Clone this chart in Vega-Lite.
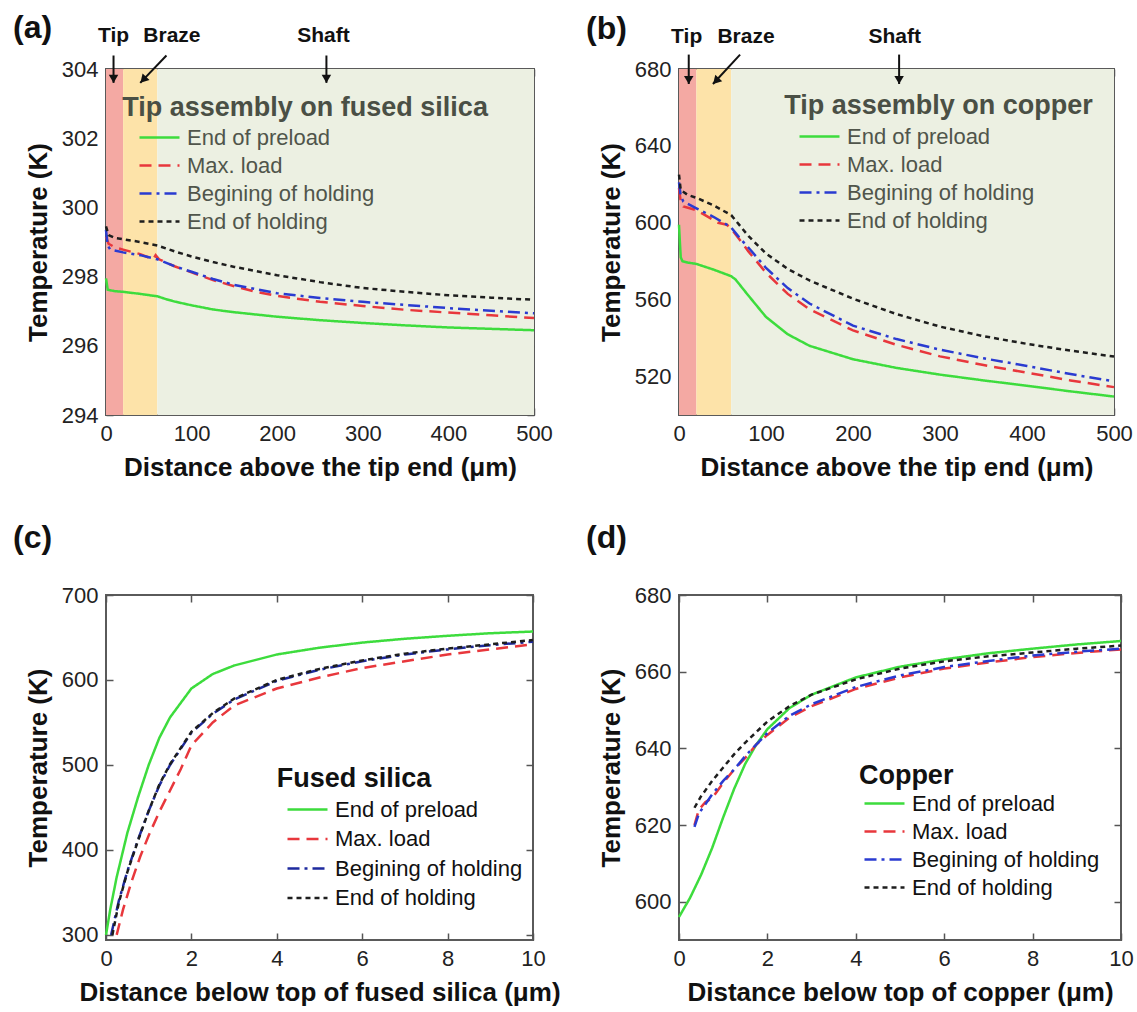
{
  "$schema": "https://vega.github.io/schema/vega-lite/v6.json",
  "background": "white",
  "padding": {"left": 12, "top": 11, "right": 5, "bottom": 5},
  "config": {
    "font": "Liberation Sans",
    "view": {"stroke": "#5a5a5a", "strokeWidth": 2},
    "axis": {"grid": false, "domain": false, "tickSize": -7, "tickColor": "#555555", "tickWidth": 1.5, "labelFontSize": 22, "labelColor": "#222222", "labelPadding": 15, "labelFlush": false, "titleFontSize": 26, "titleFontWeight": "bold", "titleColor": "#111111", "titlePadding": 10},
    "legend": {"padding": 0, "symbolType": "M-3,0L1,0", "symbolSize": 400, "symbolStrokeWidth": 2.5, "labelFontSize": 22, "labelOffset": 6, "rowPadding": 5, "labelColor": "#111111", "labelLimit": 400},
    "title": {"fontSize": 32, "fontWeight": "bold", "anchor": "start", "frame": "group", "color": "#111111", "baseline": "alphabetic"}
  },
  "resolve": {"scale": {"color": "independent", "strokeDash": "independent", "fill": "independent"}, "legend": {"color": "independent", "strokeDash": "independent"}},
  "datasets": {
    "zones": [
      {"zone": "Tip", "x0": 0, "x1": 20},
      {"zone": "Braze", "x0": 20, "x1": 60},
      {"zone": "Shaft", "x0": 60, "x1": 500}
    ],
    "a": [
      {"s": "End of preload", "x": 0, "T": 297.95}, {"s": "End of preload", "x": 2, "T": 297.62}, {"s": "End of preload", "x": 10, "T": 297.58}, {"s": "End of preload", "x": 20, "T": 297.56}, {"s": "End of preload", "x": 40, "T": 297.5}, {"s": "End of preload", "x": 60, "T": 297.43}, {"s": "End of preload", "x": 70, "T": 297.35}, {"s": "End of preload", "x": 80, "T": 297.28}, {"s": "End of preload", "x": 100, "T": 297.17}, {"s": "End of preload", "x": 125, "T": 297.05}, {"s": "End of preload", "x": 150, "T": 296.97}, {"s": "End of preload", "x": 200, "T": 296.84}, {"s": "End of preload", "x": 250, "T": 296.74}, {"s": "End of preload", "x": 300, "T": 296.66}, {"s": "End of preload", "x": 350, "T": 296.59}, {"s": "End of preload", "x": 400, "T": 296.53}, {"s": "End of preload", "x": 450, "T": 296.49}, {"s": "End of preload", "x": 500, "T": 296.45},
      {"s": "Max. load", "x": 0, "T": 299.15}, {"s": "Max. load", "x": 3, "T": 298.95}, {"s": "Max. load", "x": 10, "T": 298.85}, {"s": "Max. load", "x": 20, "T": 298.78}, {"s": "Max. load", "x": 40, "T": 298.65}, {"s": "Max. load", "x": 55, "T": 298.5}, {"s": "Max. load", "x": 58, "T": 298.62}, {"s": "Max. load", "x": 62, "T": 298.5}, {"s": "Max. load", "x": 80, "T": 298.3}, {"s": "Max. load", "x": 100, "T": 298.12}, {"s": "Max. load", "x": 125, "T": 297.9}, {"s": "Max. load", "x": 150, "T": 297.72}, {"s": "Max. load", "x": 175, "T": 297.56}, {"s": "Max. load", "x": 200, "T": 297.44}, {"s": "Max. load", "x": 250, "T": 297.27}, {"s": "Max. load", "x": 300, "T": 297.15}, {"s": "Max. load", "x": 350, "T": 297.04}, {"s": "Max. load", "x": 400, "T": 296.96}, {"s": "Max. load", "x": 450, "T": 296.88}, {"s": "Max. load", "x": 500, "T": 296.8},
      {"s": "Begining of holding", "x": 0, "T": 299.35}, {"s": "Begining of holding", "x": 2, "T": 298.9}, {"s": "Begining of holding", "x": 5, "T": 298.78}, {"s": "Begining of holding", "x": 20, "T": 298.7}, {"s": "Begining of holding", "x": 40, "T": 298.62}, {"s": "Begining of holding", "x": 60, "T": 298.5}, {"s": "Begining of holding", "x": 80, "T": 298.3}, {"s": "Begining of holding", "x": 100, "T": 298.14}, {"s": "Begining of holding", "x": 125, "T": 297.93}, {"s": "Begining of holding", "x": 150, "T": 297.76}, {"s": "Begining of holding", "x": 200, "T": 297.52}, {"s": "Begining of holding", "x": 250, "T": 297.38}, {"s": "Begining of holding", "x": 300, "T": 297.27}, {"s": "Begining of holding", "x": 350, "T": 297.18}, {"s": "Begining of holding", "x": 400, "T": 297.09}, {"s": "Begining of holding", "x": 450, "T": 297.01}, {"s": "Begining of holding", "x": 500, "T": 296.94},
      {"s": "End of holding", "x": 0, "T": 299.45}, {"s": "End of holding", "x": 3, "T": 299.2}, {"s": "End of holding", "x": 10, "T": 299.12}, {"s": "End of holding", "x": 20, "T": 299.08}, {"s": "End of holding", "x": 40, "T": 299.0}, {"s": "End of holding", "x": 60, "T": 298.9}, {"s": "End of holding", "x": 80, "T": 298.73}, {"s": "End of holding", "x": 100, "T": 298.58}, {"s": "End of holding", "x": 125, "T": 298.42}, {"s": "End of holding", "x": 150, "T": 298.28}, {"s": "End of holding", "x": 200, "T": 298.04}, {"s": "End of holding", "x": 250, "T": 297.84}, {"s": "End of holding", "x": 300, "T": 297.67}, {"s": "End of holding", "x": 350, "T": 297.56}, {"s": "End of holding", "x": 400, "T": 297.46}, {"s": "End of holding", "x": 450, "T": 297.39}, {"s": "End of holding", "x": 500, "T": 297.33}
    ],
    "b": [
      {"s": "End of preload", "x": 0, "T": 599}, {"s": "End of preload", "x": 1, "T": 590}, {"s": "End of preload", "x": 2, "T": 582}, {"s": "End of preload", "x": 4, "T": 580}, {"s": "End of preload", "x": 10, "T": 579.3}, {"s": "End of preload", "x": 20, "T": 578.6}, {"s": "End of preload", "x": 40, "T": 575.6}, {"s": "End of preload", "x": 60, "T": 572.2}, {"s": "End of preload", "x": 65, "T": 570.5}, {"s": "End of preload", "x": 80, "T": 562}, {"s": "End of preload", "x": 100, "T": 551}, {"s": "End of preload", "x": 125, "T": 542}, {"s": "End of preload", "x": 150, "T": 536}, {"s": "End of preload", "x": 200, "T": 529}, {"s": "End of preload", "x": 250, "T": 524.5}, {"s": "End of preload", "x": 300, "T": 521}, {"s": "End of preload", "x": 350, "T": 518}, {"s": "End of preload", "x": 400, "T": 515.2}, {"s": "End of preload", "x": 450, "T": 512.3}, {"s": "End of preload", "x": 500, "T": 509.6},
      {"s": "Max. load", "x": 0, "T": 618}, {"s": "Max. load", "x": 2, "T": 611}, {"s": "Max. load", "x": 5, "T": 608.5}, {"s": "Max. load", "x": 20, "T": 606.5}, {"s": "Max. load", "x": 30, "T": 604}, {"s": "Max. load", "x": 45, "T": 600}, {"s": "Max. load", "x": 55, "T": 599}, {"s": "Max. load", "x": 60, "T": 597}, {"s": "Max. load", "x": 70, "T": 591}, {"s": "Max. load", "x": 80, "T": 585}, {"s": "Max. load", "x": 100, "T": 574}, {"s": "Max. load", "x": 125, "T": 563}, {"s": "Max. load", "x": 150, "T": 555}, {"s": "Max. load", "x": 200, "T": 544}, {"s": "Max. load", "x": 250, "T": 536.5}, {"s": "Max. load", "x": 300, "T": 530.5}, {"s": "Max. load", "x": 350, "T": 526}, {"s": "Max. load", "x": 400, "T": 522}, {"s": "Max. load", "x": 450, "T": 518}, {"s": "Max. load", "x": 500, "T": 514.5},
      {"s": "Begining of holding", "x": 0, "T": 621}, {"s": "Begining of holding", "x": 2, "T": 614}, {"s": "Begining of holding", "x": 5, "T": 611}, {"s": "Begining of holding", "x": 20, "T": 607.5}, {"s": "Begining of holding", "x": 40, "T": 603}, {"s": "Begining of holding", "x": 55, "T": 599}, {"s": "Begining of holding", "x": 60, "T": 597.5}, {"s": "Begining of holding", "x": 70, "T": 592}, {"s": "Begining of holding", "x": 80, "T": 587}, {"s": "Begining of holding", "x": 100, "T": 576.5}, {"s": "Begining of holding", "x": 125, "T": 566}, {"s": "Begining of holding", "x": 150, "T": 558}, {"s": "Begining of holding", "x": 200, "T": 546.5}, {"s": "Begining of holding", "x": 250, "T": 539.5}, {"s": "Begining of holding", "x": 300, "T": 534}, {"s": "Begining of holding", "x": 350, "T": 529.5}, {"s": "Begining of holding", "x": 400, "T": 525.5}, {"s": "Begining of holding", "x": 450, "T": 521.3}, {"s": "Begining of holding", "x": 500, "T": 517.5},
      {"s": "End of holding", "x": 0, "T": 625}, {"s": "End of holding", "x": 2, "T": 617}, {"s": "End of holding", "x": 10, "T": 614.5}, {"s": "End of holding", "x": 20, "T": 613}, {"s": "End of holding", "x": 40, "T": 609}, {"s": "End of holding", "x": 60, "T": 604}, {"s": "End of holding", "x": 70, "T": 598.5}, {"s": "End of holding", "x": 80, "T": 593}, {"s": "End of holding", "x": 100, "T": 584}, {"s": "End of holding", "x": 125, "T": 576}, {"s": "End of holding", "x": 150, "T": 570}, {"s": "End of holding", "x": 200, "T": 560.5}, {"s": "End of holding", "x": 250, "T": 552.5}, {"s": "End of holding", "x": 300, "T": 546}, {"s": "End of holding", "x": 350, "T": 541}, {"s": "End of holding", "x": 400, "T": 537}, {"s": "End of holding", "x": 450, "T": 533.5}, {"s": "End of holding", "x": 500, "T": 530.4}
    ],
    "c": [
      {"s": "End of preload", "x": 0, "T": 300}, {"s": "End of preload", "x": 0.1, "T": 330}, {"s": "End of preload", "x": 0.25, "T": 368}, {"s": "End of preload", "x": 0.5, "T": 420}, {"s": "End of preload", "x": 0.75, "T": 462}, {"s": "End of preload", "x": 1, "T": 500}, {"s": "End of preload", "x": 1.25, "T": 532}, {"s": "End of preload", "x": 1.5, "T": 556}, {"s": "End of preload", "x": 2, "T": 590}, {"s": "End of preload", "x": 2.5, "T": 607}, {"s": "End of preload", "x": 3, "T": 617}, {"s": "End of preload", "x": 4, "T": 630}, {"s": "End of preload", "x": 5, "T": 638}, {"s": "End of preload", "x": 6, "T": 644}, {"s": "End of preload", "x": 7, "T": 648.5}, {"s": "End of preload", "x": 8, "T": 652}, {"s": "End of preload", "x": 9, "T": 655}, {"s": "End of preload", "x": 10, "T": 657},
      {"s": "Max. load", "x": 0.25, "T": 300}, {"s": "Max. load", "x": 0.4, "T": 330}, {"s": "Max. load", "x": 0.6, "T": 363}, {"s": "Max. load", "x": 0.8, "T": 392}, {"s": "Max. load", "x": 1, "T": 417}, {"s": "Max. load", "x": 1.25, "T": 445}, {"s": "Max. load", "x": 1.5, "T": 470}, {"s": "Max. load", "x": 1.75, "T": 495}, {"s": "Max. load", "x": 2, "T": 523}, {"s": "Max. load", "x": 2.5, "T": 550}, {"s": "Max. load", "x": 3, "T": 570}, {"s": "Max. load", "x": 4, "T": 590}, {"s": "Max. load", "x": 5, "T": 603}, {"s": "Max. load", "x": 6, "T": 614}, {"s": "Max. load", "x": 7, "T": 622}, {"s": "Max. load", "x": 8, "T": 630}, {"s": "Max. load", "x": 9, "T": 636}, {"s": "Max. load", "x": 10, "T": 642},
      {"s": "Begining of holding", "x": 0.12, "T": 300}, {"s": "Begining of holding", "x": 0.3, "T": 340}, {"s": "Begining of holding", "x": 0.5, "T": 375}, {"s": "Begining of holding", "x": 0.75, "T": 412}, {"s": "Begining of holding", "x": 1, "T": 446}, {"s": "Begining of holding", "x": 1.25, "T": 476}, {"s": "Begining of holding", "x": 1.5, "T": 500}, {"s": "Begining of holding", "x": 2, "T": 538}, {"s": "Begining of holding", "x": 2.5, "T": 560}, {"s": "Begining of holding", "x": 3, "T": 577}, {"s": "Begining of holding", "x": 4, "T": 599}, {"s": "Begining of holding", "x": 5, "T": 612}, {"s": "Begining of holding", "x": 6, "T": 622}, {"s": "Begining of holding", "x": 7, "T": 630}, {"s": "Begining of holding", "x": 8, "T": 636}, {"s": "Begining of holding", "x": 9, "T": 641}, {"s": "Begining of holding", "x": 10, "T": 645},
      {"s": "End of holding", "x": 0.15, "T": 300}, {"s": "End of holding", "x": 0.3, "T": 338}, {"s": "End of holding", "x": 0.5, "T": 374}, {"s": "End of holding", "x": 0.75, "T": 411}, {"s": "End of holding", "x": 1, "T": 446}, {"s": "End of holding", "x": 1.25, "T": 477}, {"s": "End of holding", "x": 1.5, "T": 501}, {"s": "End of holding", "x": 2, "T": 539}, {"s": "End of holding", "x": 2.5, "T": 561}, {"s": "End of holding", "x": 3, "T": 578}, {"s": "End of holding", "x": 4, "T": 600}, {"s": "End of holding", "x": 5, "T": 613}, {"s": "End of holding", "x": 6, "T": 623}, {"s": "End of holding", "x": 7, "T": 631}, {"s": "End of holding", "x": 8, "T": 637}, {"s": "End of holding", "x": 9, "T": 642}, {"s": "End of holding", "x": 10, "T": 647}
    ],
    "d": [
      {"s": "End of preload", "x": 0, "T": 596}, {"s": "End of preload", "x": 0.25, "T": 601}, {"s": "End of preload", "x": 0.5, "T": 607}, {"s": "End of preload", "x": 0.75, "T": 614}, {"s": "End of preload", "x": 1, "T": 622}, {"s": "End of preload", "x": 1.25, "T": 629.5}, {"s": "End of preload", "x": 1.5, "T": 636}, {"s": "End of preload", "x": 1.75, "T": 641}, {"s": "End of preload", "x": 2, "T": 645}, {"s": "End of preload", "x": 2.5, "T": 650.5}, {"s": "End of preload", "x": 3, "T": 654}, {"s": "End of preload", "x": 4, "T": 658.5}, {"s": "End of preload", "x": 5, "T": 661.3}, {"s": "End of preload", "x": 6, "T": 663.2}, {"s": "End of preload", "x": 7, "T": 664.8}, {"s": "End of preload", "x": 8, "T": 666}, {"s": "End of preload", "x": 9, "T": 667.1}, {"s": "End of preload", "x": 10, "T": 668},
      {"s": "Max. load", "x": 0.35, "T": 620}, {"s": "Max. load", "x": 0.45, "T": 624}, {"s": "Max. load", "x": 0.6, "T": 626}, {"s": "Max. load", "x": 0.75, "T": 627}, {"s": "Max. load", "x": 1, "T": 631}, {"s": "Max. load", "x": 1.25, "T": 634.5}, {"s": "Max. load", "x": 1.5, "T": 637.5}, {"s": "Max. load", "x": 1.75, "T": 641}, {"s": "Max. load", "x": 2, "T": 643.5}, {"s": "Max. load", "x": 2.5, "T": 648}, {"s": "Max. load", "x": 3, "T": 651}, {"s": "Max. load", "x": 4, "T": 655.5}, {"s": "Max. load", "x": 5, "T": 658.5}, {"s": "Max. load", "x": 6, "T": 660.8}, {"s": "Max. load", "x": 7, "T": 662.4}, {"s": "Max. load", "x": 8, "T": 663.8}, {"s": "Max. load", "x": 9, "T": 664.9}, {"s": "Max. load", "x": 10, "T": 665.8},
      {"s": "Begining of holding", "x": 0.35, "T": 619.5}, {"s": "Begining of holding", "x": 0.45, "T": 623}, {"s": "Begining of holding", "x": 0.6, "T": 625.5}, {"s": "Begining of holding", "x": 0.75, "T": 628}, {"s": "Begining of holding", "x": 1, "T": 631.5}, {"s": "Begining of holding", "x": 1.25, "T": 634.5}, {"s": "Begining of holding", "x": 1.5, "T": 638}, {"s": "Begining of holding", "x": 2, "T": 644}, {"s": "Begining of holding", "x": 2.5, "T": 648.5}, {"s": "Begining of holding", "x": 3, "T": 651.5}, {"s": "Begining of holding", "x": 4, "T": 656}, {"s": "Begining of holding", "x": 5, "T": 659}, {"s": "Begining of holding", "x": 6, "T": 661.2}, {"s": "Begining of holding", "x": 7, "T": 662.8}, {"s": "Begining of holding", "x": 8, "T": 664.2}, {"s": "Begining of holding", "x": 9, "T": 665.2}, {"s": "Begining of holding", "x": 10, "T": 666},
      {"s": "End of holding", "x": 0.35, "T": 624.5}, {"s": "End of holding", "x": 0.5, "T": 627.5}, {"s": "End of holding", "x": 0.75, "T": 631.5}, {"s": "End of holding", "x": 1, "T": 635}, {"s": "End of holding", "x": 1.25, "T": 638.5}, {"s": "End of holding", "x": 1.5, "T": 641.5}, {"s": "End of holding", "x": 2, "T": 647}, {"s": "End of holding", "x": 2.5, "T": 651}, {"s": "End of holding", "x": 3, "T": 654}, {"s": "End of holding", "x": 4, "T": 658}, {"s": "End of holding", "x": 5, "T": 660.8}, {"s": "End of holding", "x": 6, "T": 662.7}, {"s": "End of holding", "x": 7, "T": 664}, {"s": "End of holding", "x": 8, "T": 665}, {"s": "End of holding", "x": 9, "T": 666}, {"s": "End of holding", "x": 10, "T": 666.8}
    ],
    "notes_a": [
      {"t": "Tip", "x": 8.8, "y": 304.94}, {"t": "Braze", "x": 77, "y": 304.94}, {"t": "Shaft", "x": 254, "y": 304.94}
    ],
    "arrows_a": [
      {"t": "Tip", "x": 8.8, "y": 304.39, "x2": 8.8, "y2": 303.6},
      {"t": "Braze", "x": 70.6, "y": 304.39, "x2": 40, "y2": 303.6},
      {"t": "Shaft", "x": 257.5, "y": 304.39, "x2": 257.5, "y2": 303.6}
    ],
    "notes_b": [
      {"t": "Tip", "x": 8.8, "y": 696.4}, {"t": "Braze", "x": 77, "y": 696.4}, {"t": "Shaft", "x": 248, "y": 696.4}
    ],
    "arrows_b": [
      {"t": "Tip", "x": 11.2, "y": 687.5, "x2": 11.2, "y2": 672.2},
      {"t": "Braze", "x": 70.2, "y": 687.5, "x2": 39, "y2": 672.2},
      {"t": "Shaft", "x": 253, "y": 687.5, "x2": 253, "y2": 672.2}
    ]
  },
  "columns": 2,
  "spacing": {"row": 40, "column": 23},
  "concat": [
    {
      "width": 428, "height": 346,
      "title": {"text": "(a)", "dx": -93, "dy": 20, "offset": 0},
      "resolve": {"axis": {"x": "independent", "y": "independent"}},
      "layer": [
        {
          "data": {"name": "zones"},
          "mark": {"type": "rect"},
          "encoding": {
            "x": {"field": "x0", "type": "quantitative", "scale": {"domain": [0, 500], "nice": false}, "axis": null},
            "x2": {"field": "x1"},
            "fill": {"field": "zone", "type": "nominal", "scale": {"domain": ["Tip", "Braze", "Shaft"], "range": ["#f4a9a3", "#fde3a9", "#ecf0e2"]}, "legend": null}
          }
        },
        {
          "data": {"name": "a"},
          "mark": {"type": "line", "strokeWidth": 2.5},
          "encoding": {
            "x": {"field": "x", "type": "quantitative", "scale": {"domain": [0, 500], "nice": false}, "axis": {"orient": "bottom", "values": [0, 100, 200, 300, 400, 500], "title": "Distance above the tip end (μm)"}},
            "y": {"field": "T", "type": "quantitative", "scale": {"domain": [294, 304], "nice": false}, "axis": {"orient": "left", "values": [294, 296, 298, 300, 302, 304], "title": "Temperature (K)"}},
            "color": {"field": "s", "type": "nominal", "scale": {"domain": ["End of preload", "Max. load", "Begining of holding", "End of holding"], "range": ["#3ddc3d", "#e8373c", "#2a3bd1", "#1e1e1e"]}, "legend": {"orient": "none", "legendX": 52, "legendY": 57, "title": null, "labelColor": "#50554b"}},
            "strokeDash": {"field": "s", "type": "nominal", "scale": {"domain": ["End of preload", "Max. load", "Begining of holding", "End of holding"], "range": [[1, 0], [12, 7], [12, 5, 3, 5], [5, 4]]}, "legend": {"orient": "none", "legendX": 52, "legendY": 57, "title": null, "labelColor": "#50554b"}}
          }
        },
        {
          "data": {"values": [{"t": "Tip assembly on fused silica", "x": 19, "y": 302.86}]},
          "mark": {"type": "text", "align": "left", "baseline": "middle", "fontSize": 27, "fontWeight": "bold", "color": "#4a4f45"},
          "encoding": {
            "x": {"field": "x", "type": "quantitative", "axis": {"orient": "top", "values": [0, 100, 200, 300, 400, 500], "labels": false, "title": null}},
            "y": {"field": "y", "type": "quantitative", "axis": {"orient": "right", "values": [294, 296, 298, 300, 302, 304], "labels": false, "title": null}},
            "text": {"field": "t"}
          }
        },
        {
          "data": {"name": "notes_a"},
          "mark": {"type": "text", "align": "center", "baseline": "middle", "fontSize": 21, "fontWeight": "bold", "color": "#111111"},
          "encoding": {
            "x": {"field": "x", "type": "quantitative", "axis": null},
            "y": {"field": "y", "type": "quantitative", "axis": null},
            "text": {"field": "t"}
          }
        },
        {
          "data": {"name": "arrows_a"},
          "mark": {"type": "rule", "strokeWidth": 2, "color": "#111111"},
          "encoding": {
            "x": {"field": "x", "type": "quantitative", "axis": null},
            "y": {"field": "y", "type": "quantitative", "axis": null},
            "x2": {"field": "x2"},
            "y2": {"field": "y2"}
          }
        },
        {
          "data": {"name": "arrows_a"},
          "transform": [{"filter": "datum.t !== 'Braze'"}],
          "mark": {"type": "point", "shape": "triangle-down", "filled": true, "size": 90, "color": "#111111", "opacity": 1, "yOffset": -4},
          "encoding": {
            "x": {"field": "x2", "type": "quantitative", "axis": null},
            "y": {"field": "y2", "type": "quantitative", "axis": null}
          }
        },
        {
          "data": {"name": "arrows_a"},
          "transform": [{"filter": "datum.t === 'Braze'"}],
          "mark": {"type": "point", "shape": "triangle-down", "filled": true, "size": 90, "color": "#111111", "opacity": 1, "angle": 43, "xOffset": 3, "yOffset": -3},
          "encoding": {
            "x": {"field": "x2", "type": "quantitative", "axis": null},
            "y": {"field": "y2", "type": "quantitative", "axis": null}
          }
        }
      ]
    },
    {
      "width": 435, "height": 346,
      "title": {"text": "(b)", "dx": -93, "dy": 20, "offset": 0},
      "resolve": {"axis": {"x": "independent", "y": "independent"}},
      "layer": [
        {
          "data": {"name": "zones"},
          "mark": {"type": "rect"},
          "encoding": {
            "x": {"field": "x0", "type": "quantitative", "scale": {"domain": [0, 500], "nice": false}, "axis": null},
            "x2": {"field": "x1"},
            "fill": {"field": "zone", "type": "nominal", "scale": {"domain": ["Tip", "Braze", "Shaft"], "range": ["#f4a9a3", "#fde3a9", "#ecf0e2"]}, "legend": null}
          }
        },
        {
          "data": {"name": "b"},
          "mark": {"type": "line", "strokeWidth": 2.5},
          "encoding": {
            "x": {"field": "x", "type": "quantitative", "scale": {"domain": [0, 500], "nice": false}, "axis": {"orient": "bottom", "values": [0, 100, 200, 300, 400, 500], "title": "Distance above the tip end (μm)"}},
            "y": {"field": "T", "type": "quantitative", "scale": {"domain": [500, 680], "nice": false}, "axis": {"orient": "left", "values": [520, 560, 600, 640, 680], "title": "Temperature (K)"}},
            "color": {"field": "s", "type": "nominal", "scale": {"domain": ["End of preload", "Max. load", "Begining of holding", "End of holding"], "range": ["#3ddc3d", "#e8373c", "#2a3bd1", "#1e1e1e"]}, "legend": {"orient": "none", "legendX": 139, "legendY": 56, "title": null, "labelColor": "#50554b"}},
            "strokeDash": {"field": "s", "type": "nominal", "scale": {"domain": ["End of preload", "Max. load", "Begining of holding", "End of holding"], "range": [[1, 0], [12, 7], [12, 5, 3, 5], [5, 4]]}, "legend": {"orient": "none", "legendX": 139, "legendY": 56, "title": null, "labelColor": "#50554b"}}
          }
        },
        {
          "data": {"values": [{"t": "Tip assembly on copper", "x": 121, "y": 661}]},
          "mark": {"type": "text", "align": "left", "baseline": "middle", "fontSize": 27, "fontWeight": "bold", "color": "#4a4f45"},
          "encoding": {
            "x": {"field": "x", "type": "quantitative", "axis": {"orient": "top", "values": [0, 100, 200, 300, 400, 500], "labels": false, "title": null}},
            "y": {"field": "y", "type": "quantitative", "axis": {"orient": "right", "values": [520, 560, 600, 640, 680], "labels": false, "title": null}},
            "text": {"field": "t"}
          }
        },
        {
          "data": {"name": "notes_b"},
          "mark": {"type": "text", "align": "center", "baseline": "middle", "fontSize": 21, "fontWeight": "bold", "color": "#111111"},
          "encoding": {
            "x": {"field": "x", "type": "quantitative", "axis": null},
            "y": {"field": "y", "type": "quantitative", "axis": null},
            "text": {"field": "t"}
          }
        },
        {
          "data": {"name": "arrows_b"},
          "mark": {"type": "rule", "strokeWidth": 2, "color": "#111111"},
          "encoding": {
            "x": {"field": "x", "type": "quantitative", "axis": null},
            "y": {"field": "y", "type": "quantitative", "axis": null},
            "x2": {"field": "x2"},
            "y2": {"field": "y2"}
          }
        },
        {
          "data": {"name": "arrows_b"},
          "transform": [{"filter": "datum.t !== 'Braze'"}],
          "mark": {"type": "point", "shape": "triangle-down", "filled": true, "size": 90, "color": "#111111", "opacity": 1, "yOffset": -4},
          "encoding": {
            "x": {"field": "x2", "type": "quantitative", "axis": null},
            "y": {"field": "y2", "type": "quantitative", "axis": null}
          }
        },
        {
          "data": {"name": "arrows_b"},
          "transform": [{"filter": "datum.t === 'Braze'"}],
          "mark": {"type": "point", "shape": "triangle-down", "filled": true, "size": 90, "color": "#111111", "opacity": 1, "angle": 43, "xOffset": 3, "yOffset": -3},
          "encoding": {
            "x": {"field": "x2", "type": "quantitative", "axis": null},
            "y": {"field": "y2", "type": "quantitative", "axis": null}
          }
        }
      ]
    },
    {
      "width": 427, "height": 345,
      "title": {"text": "(c)", "dx": -93, "offset": 29},
      "resolve": {"axis": {"x": "independent", "y": "independent"}},
      "layer": [
        {
          "data": {"name": "c"},
          "mark": {"type": "line", "strokeWidth": 2.5},
          "encoding": {
            "x": {"field": "x", "type": "quantitative", "scale": {"domain": [0, 10], "nice": false}, "axis": {"orient": "bottom", "values": [0, 2, 4, 6, 8, 10], "title": "Distance below top of fused silica (μm)"}},
            "y": {"field": "T", "type": "quantitative", "scale": {"domain": [294, 700], "nice": false}, "axis": {"orient": "left", "values": [300, 400, 500, 600, 700], "title": "Temperature (K)"}},
            "color": {"field": "s", "type": "nominal", "scale": {"domain": ["End of preload", "Max. load", "Begining of holding", "End of holding"], "range": ["#3ddc3d", "#e8373c", "#1e2a9e", "#1e1e1e"]}, "legend": {"orient": "none", "legendX": 200, "legendY": 203, "rowPadding": 6.5, "title": null}},
            "strokeDash": {"field": "s", "type": "nominal", "scale": {"domain": ["End of preload", "Max. load", "Begining of holding", "End of holding"], "range": [[1, 0], [12, 7], [12, 5, 3, 5], [5, 4]]}, "legend": {"orient": "none", "legendX": 200, "legendY": 203, "rowPadding": 6.5, "title": null}}
          }
        },
        {
          "data": {"values": [{"t": "Fused silica", "x": 4.0, "y": 484}]},
          "mark": {"type": "text", "align": "left", "baseline": "middle", "fontSize": 27, "fontWeight": "bold", "color": "#111111"},
          "encoding": {
            "x": {"field": "x", "type": "quantitative", "axis": {"orient": "top", "values": [0, 2, 4, 6, 8, 10], "labels": false, "title": null}},
            "y": {"field": "y", "type": "quantitative", "axis": {"orient": "right", "values": [300, 400, 500, 600, 700], "labels": false, "title": null}},
            "text": {"field": "t"}
          }
        }
      ]
    },
    {
      "width": 442, "height": 345,
      "title": {"text": "(d)", "dx": -93, "offset": 29},
      "resolve": {"axis": {"x": "independent", "y": "independent"}},
      "layer": [
        {
          "data": {"name": "d"},
          "mark": {"type": "line", "strokeWidth": 2.5},
          "encoding": {
            "x": {"field": "x", "type": "quantitative", "scale": {"domain": [0, 10], "nice": false}, "axis": {"orient": "bottom", "values": [0, 2, 4, 6, 8, 10], "title": "Distance below top of copper (μm)"}},
            "y": {"field": "T", "type": "quantitative", "scale": {"domain": [590, 680], "nice": false}, "axis": {"orient": "left", "values": [600, 620, 640, 660, 680], "title": "Temperature (K)"}},
            "color": {"field": "s", "type": "nominal", "scale": {"domain": ["End of preload", "Max. load", "Begining of holding", "End of holding"], "range": ["#3ddc3d", "#e8373c", "#2a3bd1", "#1e1e1e"]}, "legend": {"orient": "none", "legendX": 204, "legendY": 197, "title": null}},
            "strokeDash": {"field": "s", "type": "nominal", "scale": {"domain": ["End of preload", "Max. load", "Begining of holding", "End of holding"], "range": [[1, 0], [12, 7], [12, 5, 3, 5], [5, 4]]}, "legend": {"orient": "none", "legendX": 204, "legendY": 197, "title": null}}
          }
        },
        {
          "data": {"values": [{"t": "Copper", "x": 4.07, "y": 632.9}]},
          "mark": {"type": "text", "align": "left", "baseline": "middle", "fontSize": 27, "fontWeight": "bold", "color": "#111111"},
          "encoding": {
            "x": {"field": "x", "type": "quantitative", "axis": {"orient": "top", "values": [0, 2, 4, 6, 8, 10], "labels": false, "title": null}},
            "y": {"field": "y", "type": "quantitative", "axis": {"orient": "right", "values": [600, 620, 640, 660, 680], "labels": false, "title": null}},
            "text": {"field": "t"}
          }
        }
      ]
    }
  ]
}
